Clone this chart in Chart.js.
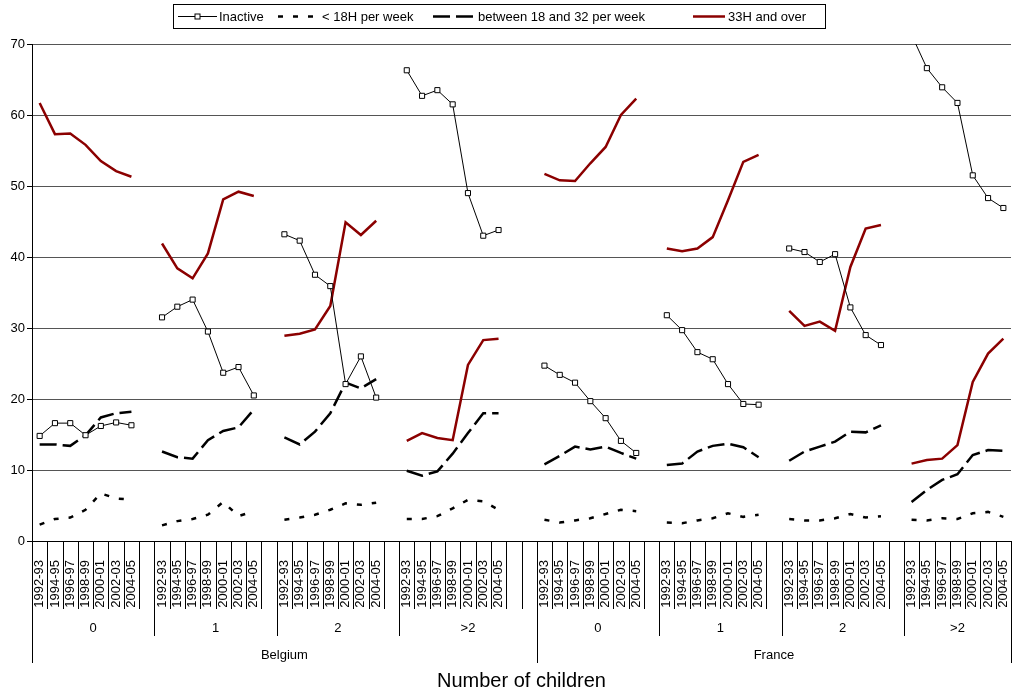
<!DOCTYPE html>
<html>
<head>
<meta charset="utf-8">
<script src="https://cdn.jsdelivr.net/npm/chart.js@4.4.1/dist/chart.umd.min.js"></script>
<style>
  body { margin: 0; background: #fff; }
  #wrap { width: 1016px; height: 697px; }
</style>
</head>
<body>
<div id="wrap"><canvas id="chart" width="1016" height="697"></canvas></div>
<script>
// --- Data ---
const years = ['1992-93', '1994-95', '1996-97', '1998-99', '2000-01', '2002-03', '2004-05'];
const childGroups = ['0', '1', '2', '>2'];
const countries = ['Belgium', 'France'];
// empty category slots after each country/children block (as in the source sheet)
const gapSlots = [1, 1, 1, 2, 1, 1, 1, 0];

// values per block: Belgium 0,1,2,>2 then France 0,1,2,>2
const inactive = [
    14.8, 16.6, 16.6, 14.9, 16.2, 16.7, 16.3,
    31.5, 33.0, 34.0, 29.5, 23.7, 24.5, 20.5,
    43.2, 42.3, 37.5, 35.9, 22.1, 26.0, 20.2,
    66.3, 62.7, 63.5, 61.5, 49.0, 43.0, 43.8,
    24.7, 23.4, 22.3, 19.7, 17.3, 14.1, 12.4,
    31.8, 29.7, 26.6, 25.6, 22.1, 19.3, 19.2,
    41.2, 40.7, 39.3, 40.4, 32.9, 29.0, 27.6,
    71.3, 66.6, 63.9, 61.7, 51.5, 48.3, 46.9
];
const under18 = [
    2.3, 3.1, 3.3, 4.4, 6.7, 6.0, 5.8,
    2.2, 2.8, 3.1, 3.7, 5.5, 3.5, 4.2,
    3.0, 3.3, 3.7, 4.4, 5.3, 5.1, 5.4,
    3.1, 3.1, 3.5, 4.6, 5.8, 5.6, 4.4,
    3.0, 2.6, 2.9, 3.2, 3.8, 4.4, 4.2,
    2.6, 2.5, 2.9, 3.2, 3.9, 3.4, 3.7,
    3.1, 2.9, 2.9, 3.2, 3.8, 3.3, 3.5,
    3.0, 2.9, 3.2, 3.1, 3.9, 4.1, 3.4
];
const between18and32 = [
    13.6, 13.6, 13.4, 14.9, 17.4, 18.0, 18.2,
    12.6, 11.8, 11.6, 14.2, 15.5, 16.0, 18.5,
    14.6, 13.6, 15.4, 18.0, 22.3, 21.5, 22.8,
    9.9, 9.2, 9.8, 12.3, 15.2, 18.0, 18.0,
    10.8, 12.0, 13.3, 12.9, 13.3, 12.4, 11.6,
    10.7, 10.9, 12.6, 13.4, 13.7, 13.2, 11.8,
    11.3, 12.6, 13.3, 14.0, 15.4, 15.3, 16.3,
    5.5, 7.2, 8.6, 9.4, 12.1, 12.8, 12.7
];
const over33 = [
    61.7, 57.3, 57.4, 55.8, 53.5, 52.1, 51.3,
    41.9, 38.4, 37.0, 40.5, 48.1, 49.2, 48.6,
    28.9, 29.2, 29.8, 33.1, 44.9, 43.1, 45.1,
    14.1, 15.2, 14.5, 14.2, 24.8, 28.3, 28.5,
    51.7, 50.8, 50.7, 53.2, 55.5, 60.0, 62.3,
    41.2, 40.8, 41.2, 42.8, 48.0, 53.4, 54.4,
    32.4, 30.3, 30.9, 29.6, 38.6, 44.0, 44.5,
    10.9, 11.4, 11.6, 13.5, 22.4, 26.4, 28.5
];
const yTicks = { min: 0, max: 70, step: 10 };

// --- Build category slots (years + blank spacer slots) ---
const slotLabels = [];
const slotSource = [];   // index into the value arrays, or -1 for a blank slot
const groupSpans = [];   // {label, from, to}
const countrySpans = [];
let block = 0;
countries.forEach(country => {
    const cFrom = slotLabels.length;
    childGroups.forEach(g => {
        const gFrom = slotLabels.length;
        years.forEach((y, i) => {
            slotLabels.push(y);
            slotSource.push(block * years.length + i);
        });
        for (let k = 0; k < gapSlots[block]; k++) {
            slotLabels.push('');
            slotSource.push(-1);
        }
        groupSpans.push({ label: g, from: gFrom, to: slotLabels.length });
        block++;
    });
    countrySpans.push({ label: country, from: cFrom, to: slotLabels.length });
});

const toSlots = values => slotSource.map(i => (i < 0 ? null : values[i]));

const FONT = '"Liberation Sans", Arial, sans-serif';

// --- Custom legend + multi-level category axis ---
const excelAxisPlugin = {
    id: 'excelAxis',
    afterDraw(chart) {
        const ctx = chart.ctx;
        const area = chart.chartArea;
        const xs = chart.scales.x;
        const n = slotLabels.length;
        const w = (area.right - area.left) / n;
        const edge = i => area.left + i * w;

        ctx.save();
        ctx.strokeStyle = '#000';
        ctx.lineWidth = 1;

        // x axis line
        ctx.beginPath();
        ctx.moveTo(area.left, area.bottom + 0.5);
        ctx.lineTo(area.right, area.bottom + 0.5);
        ctx.stroke();

        // slot boundaries
        const groupEdges = new Set(groupSpans.map(g => g.from));
        const countryEdges = new Set(countrySpans.map(c => c.from).concat([n]));
        for (let i = 0; i <= n; i++) {
            let len = 68;
            if (countryEdges.has(i)) len = 122;
            else if (groupEdges.has(i)) len = 95;
            const x = Math.round(edge(i)) + 0.5;
            ctx.beginPath();
            ctx.moveTo(x, area.bottom);
            ctx.lineTo(x, area.bottom + len);
            ctx.stroke();
        }

        ctx.fillStyle = '#000';
        // year labels (vertical)
        ctx.font = '13px ' + FONT;
        ctx.textAlign = 'right';
        ctx.textBaseline = 'middle';
        slotLabels.forEach((lab, i) => {
            if (!lab) return;
            const x = xs.getPixelForValue(i);
            ctx.save();
            ctx.translate(x, area.bottom + 19);
            ctx.rotate(-Math.PI / 2);
            ctx.fillText(lab, 0, 0);
            ctx.restore();
        });

        // children group labels
        ctx.textAlign = 'center';
        groupSpans.forEach(g => {
            ctx.fillText(g.label, (edge(g.from) + edge(g.to)) / 2, area.bottom + 87);
        });
        // country labels
        countrySpans.forEach(c => {
            ctx.fillText(c.label, (edge(c.from) + edge(c.to)) / 2, area.bottom + 114);
        });

        // axis title
        ctx.font = '20px ' + FONT;
        ctx.fillText('Number of children', (area.left + area.right) / 2, area.bottom + 140);

        // legend
        const ly = 16.5;
        ctx.strokeStyle = '#000';
        ctx.lineWidth = 1;
        ctx.strokeRect(173.5, 4.5, 652, 24);
        ctx.font = '13px ' + FONT;
        ctx.textAlign = 'left';
        const items = chart.data.datasets;
        const sampleX = [178, 278, 433, 693];
        const sampleW = [39, 36, 44, 32];
        const textX = [219, 322, 478, 728];
        items.forEach((ds, k) => {
            ctx.save();
            ctx.strokeStyle = ds.borderColor;
            ctx.lineWidth = ds.borderWidth;
            ctx.setLineDash(ds.borderDash || []);
            ctx.beginPath();
            ctx.moveTo(sampleX[k], ly);
            ctx.lineTo(sampleX[k] + sampleW[k], ly);
            ctx.stroke();
            ctx.restore();
            if (ds.pointRadius > 0) {
                const cx = sampleX[k] + sampleW[k] / 2;
                ctx.fillStyle = '#fff';
                ctx.fillRect(cx - 2.5, ly - 2.5, 5, 5);
                ctx.strokeRect(cx - 2.5, ly - 2.5, 5, 5);
            }
            ctx.fillStyle = '#000';
            ctx.fillText(ds.label, textX[k], ly + 1);
        });
        ctx.restore();
    }
};

new Chart(document.getElementById('chart'), {
    type: 'line',
    data: {
        labels: slotLabels,
        datasets: [
            {
                label: 'Inactive',
                data: toSlots(inactive),
                borderColor: '#000',
                borderWidth: 1,
                pointStyle: 'rect',
                pointRadius: 3.6,
                pointBackgroundColor: '#fff',
                pointBorderColor: '#000',
                pointBorderWidth: 1
            },
            {
                label: '< 18H per week',
                data: toSlots(under18),
                borderColor: '#000',
                borderWidth: 2.5,
                borderDash: [5, 10],
                pointRadius: 0
            },
            {
                label: 'between 18 and 32 per week',
                data: toSlots(between18and32),
                borderColor: '#000',
                borderWidth: 2.5,
                borderDash: [17, 6],
                pointRadius: 0
            },
            {
                label: '33H and over',
                data: toSlots(over33),
                borderColor: '#8B0000',
                borderWidth: 2.5,
                pointRadius: 0
            }
        ]
    },
    options: {
        responsive: false,
        animation: false,
        spanGaps: false,
        layout: { padding: { top: 44, bottom: 156, left: 0, right: 4 } },
        plugins: {
            legend: { display: false },
            tooltip: { enabled: false }
        },
        scales: {
            x: {
                type: 'category',
                display: false,
                offset: true
            },
            y: {
                min: yTicks.min,
                max: yTicks.max,
                afterFit: scale => { scale.width = 32; },
                ticks: {
                    stepSize: yTicks.step,
                    color: '#000',
                    padding: 2,
                    font: { family: FONT, size: 13 }
                },
                grid: {
                    color: '#555',
                    lineWidth: 1,
                    tickLength: 5,
                    tickColor: '#000'
                },
                border: { color: '#000', width: 1 }
            }
        }
    },
    plugins: [excelAxisPlugin]
});
</script>
</body>
</html>
